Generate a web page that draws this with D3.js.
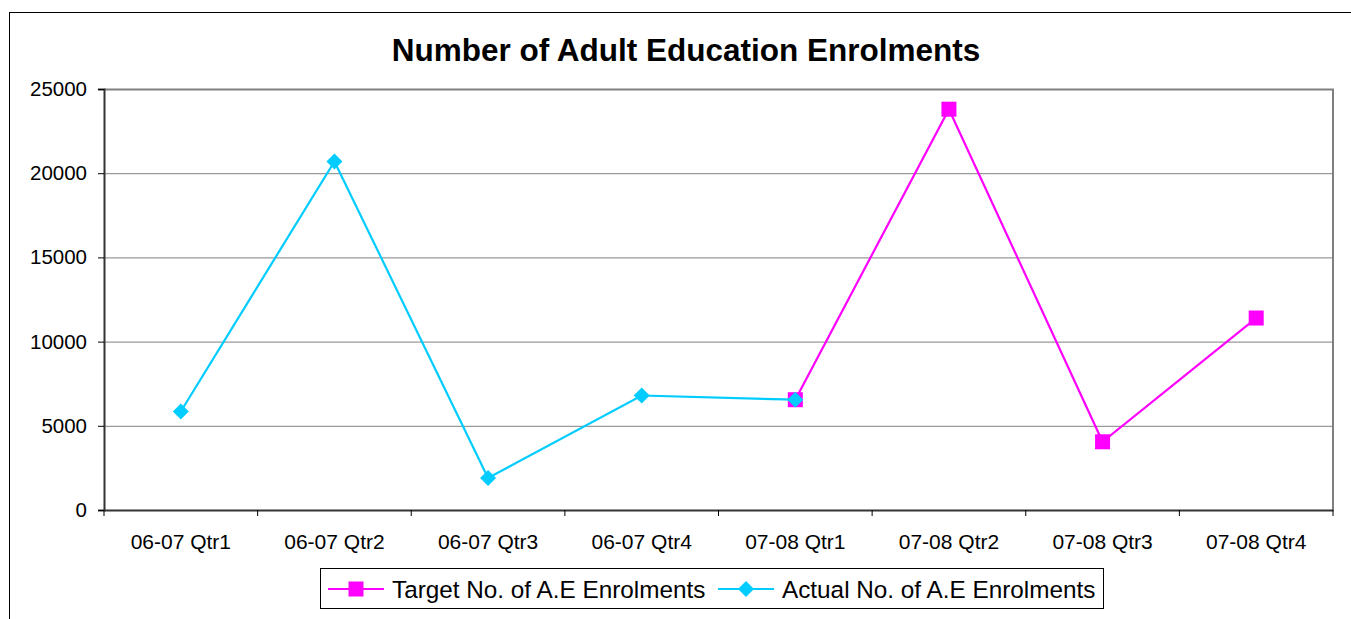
<!DOCTYPE html>
<html><head><meta charset="utf-8">
<script src="https://cdn.jsdelivr.net/npm/d3@7"></script>
<style>body{margin:0;background:#fff;}svg{display:block;font-family:Arial,"Liberation Sans",sans-serif;}</style>
</head><body>
<script>
const categories = ["06-07 Qtr1","06-07 Qtr2","06-07 Qtr3","06-07 Qtr4","07-08 Qtr1","07-08 Qtr2","07-08 Qtr3","07-08 Qtr4"];
const targetValues = [null,null,null,null,6550,23800,4050,11400];
const actualValues = [5850,20700,1900,6800,6550,null,null,null];
const yTicks = [0,5000,10000,15000,20000,25000];
const seriesNames = ["Target No. of A.E Enrolments","Actual No. of A.E Enrolments"];
const chartTitle = "Number of Adult Education Enrolments";

const W = 1351, H = 619;
const L = 104, R = 1333, T = 89, B = 510;
const FF = "Arial, 'Liberation Sans', sans-serif";
const svg = d3.select("body").append("svg").attr("width", W).attr("height", H);

svg.append("rect").attr("x", 9.5).attr("y", 12.5).attr("width", 1400).attr("height", 700)
  .attr("fill", "#fff").attr("stroke", "#000").attr("stroke-width", 1);

const x = d3.scaleBand().domain(categories).range([L, R]);
const y = d3.scaleLinear().domain([0, 25000]).range([B, T]);

// gridlines
svg.append("g").selectAll("line").data(yTicks.filter(d => d > 0)).join("line")
  .attr("x1", L).attr("x2", R).attr("y1", d => y(d) + 0.5).attr("y2", d => y(d) + 0.5)
  .attr("stroke", "#808080").attr("stroke-width", 1);
// plot border top/right
svg.append("path").attr("d", `M${L},${T+0.5}H${R}V${B}`).attr("fill", "none")
  .attr("stroke", "#808080").attr("stroke-width", 2);

// axes
const yAxis = d3.axisLeft(y).tickValues(yTicks).tickSize(6).tickPadding(11).tickFormat(d3.format("d"));
const gy = svg.append("g").attr("transform", `translate(${L},0)`).call(yAxis)
  .attr("font-size", 20.5).attr("font-family", FF);
gy.select(".domain").attr("stroke", "#333").attr("stroke-width", 2);
gy.selectAll(".tick line").attr("stroke", "#000");
gy.selectAll("text").attr("fill", "#000");

const xAxis = d3.axisBottom(x).tickSize(0).tickPadding(24);
const gx = svg.append("g").attr("transform", `translate(0,${B})`).call(xAxis)
  .attr("font-size", 21).attr("font-family", FF);
gx.select(".domain").attr("stroke", "#333").attr("stroke-width", 2);
gx.selectAll("text").attr("fill", "#000");
// category boundary ticks
svg.append("g").selectAll("line").data(categories.concat(["__end"])).join("line")
  .attr("x1", (d,i) => i < categories.length ? x(d) : R)
  .attr("x2", (d,i) => i < categories.length ? x(d) : R)
  .attr("y1", B).attr("y2", B + 6).attr("stroke", "#000");

const cx = d => x(d) + x.bandwidth() / 2;
const line = d3.line().defined(d => d.v != null).x(d => cx(d.c)).y(d => y(d.v));

const tData = categories.map((c,i) => ({c, v: targetValues[i]}));
const aData = categories.map((c,i) => ({c, v: actualValues[i]}));
const magenta = "#FF00FF", cyan = "#00CCFF";

svg.append("path").datum(tData).attr("d", line).attr("fill", "none").attr("stroke", magenta).attr("stroke-width", 2.2);
svg.append("g").selectAll("rect").data(tData.filter(d => d.v != null)).join("rect")
  .attr("x", d => cx(d.c) - 7.5).attr("y", d => y(d.v) - 7.5).attr("width", 15).attr("height", 15).attr("fill", magenta);

svg.append("path").datum(aData).attr("d", line).attr("fill", "none").attr("stroke", cyan).attr("stroke-width", 2.2);
const diamond = (px, py, r) => `M${px},${py-r}L${px+r},${py}L${px},${py+r}L${px-r},${py}Z`;
svg.append("g").selectAll("path").data(aData.filter(d => d.v != null)).join("path")
  .attr("d", d => diamond(cx(d.c), y(d.v), 8)).attr("fill", cyan);

// title
svg.append("text").attr("x", 686).attr("y", 61).attr("text-anchor", "middle")
  .attr("font-size", 31.5).attr("font-weight", "bold").text(chartTitle);

// legend
const lg = svg.append("g");
lg.append("rect").attr("x", 320.5).attr("y", 568.5).attr("width", 783).attr("height", 40)
  .attr("fill", "#fff").attr("stroke", "#000");
const items = [
  {name: seriesNames[0], color: magenta, shape: "square", x0: 328},
  {name: seriesNames[1], color: cyan, shape: "diamond", x0: 718}
];
items.forEach(it => {
  lg.append("line").attr("x1", it.x0).attr("x2", it.x0 + 56).attr("y1", 589).attr("y2", 589)
    .attr("stroke", it.color).attr("stroke-width", 2.2);
  if (it.shape === "square") lg.append("rect").attr("x", it.x0 + 20.5).attr("y", 581.5).attr("width", 15).attr("height", 15).attr("fill", it.color);
  else lg.append("path").attr("d", diamond(it.x0 + 28, 589, 8)).attr("fill", it.color);
  lg.append("text").attr("x", it.x0 + 64).attr("y", 597.5).attr("font-size", 24.3).text(it.name);
});
</script>
</body></html>
